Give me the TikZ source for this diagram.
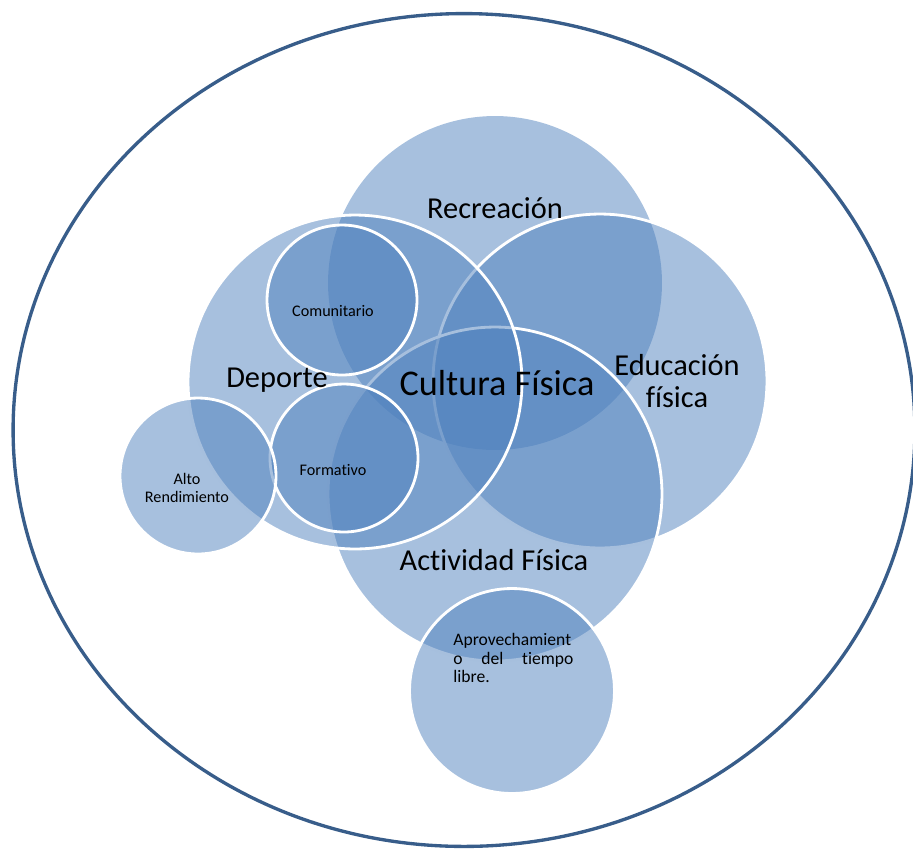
\documentclass[tikz,border=0pt]{standalone}
\usepackage{fontspec}
\setmainfont{Carlito}[Ligatures=NoCommon]
\usetikzlibrary{shapes.geometric}
\definecolor{vennblue}{HTML}{4F81BD}
\definecolor{rimblue}{HTML}{385D8A}

\begin{document}
\begin{tikzpicture}[x=0.02cm,y=-0.02cm,
  venn/.style={circle,inner sep=0pt,fill=vennblue,fill opacity=0.5},
  rim/.style={draw=white,line width=1.6pt},
  big/.style={font=\fontsize{17.3}{18.5}\selectfont,align=center,inner sep=0pt},
  small/.style={font=\fontsize{9.2}{10.2}\selectfont,align=center,inner sep=0pt}]
  \useasboundingbox (0,0) rectangle (913,850);
  \node[ellipse,draw=rimblue,line width=1.9pt,inner sep=0pt,
    minimum width=18.04cm,minimum height=16.66cm] (frame) at (464,430) {};

  % big circles
  \node[venn,minimum size=6.68cm] (rec) at (495,283) {};
  \node[venn,rim,minimum size=6.68cm] (edu) at (600,381) {};
  \node[venn,rim,minimum size=6.68cm] (act) at (495,494) {};
  \node[venn,rim,minimum size=6.68cm] (dep) at (355,382) {};
  % small circles
  \node[venn,rim,minimum size=3cm] (com) at (342,300) {};
  \node[venn,rim,minimum size=2.96cm] (form) at (344,458) {};
  \node[venn,rim,minimum size=3.12cm] (alto) at (198,476) {};
  \node[venn,rim,minimum size=4.1cm] (apr) at (512,691) {};

  \node[big] (recL) at (495,208) {Recreación};
  \node[big] (depL) at (277,380) {Deporte};
  \node[font=\fontsize{20.6}{22}\selectfont,inner sep=0pt] (cul) at (497,383) {Cultura Física};
  \node[big] (eduL) at (677,381) {Educación\\física};
  \node[big] (actL) at (494,560) {Actividad Física};
  \node[small] (comL) at (333,311) {Comunitario};
  \node[small] (formL) at (333,470) {Formativo};
  \node[small] (altoL) at (187,488) {Alto\\Rendimiento};
  \node[font=\fontsize{10}{10.5}\selectfont,inner sep=0pt,anchor=north west,
    text width=2.4cm,align=left] (aprL) at (453,633)
    {Aprovechamient\\\makebox[2.4cm][l]{o\hfill del\hfill tiempo}\\libre.};
\end{tikzpicture}
\end{document}
